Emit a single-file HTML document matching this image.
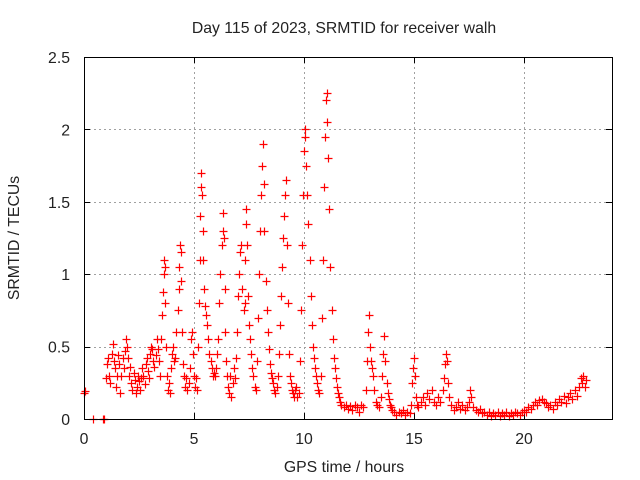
<!DOCTYPE html>
<html><head><meta charset="utf-8"><style>
body{margin:0;background:#fff}
svg{display:block;font-family:"Liberation Sans",sans-serif}
</style></head><body>
<svg id="chart" width="640" height="480" viewBox="0 0 640 480">
<rect width="640" height="480" fill="#fff"/>
<text x="344" y="33" font-size="15.8" text-anchor="middle" fill="#222">Day 115 of 2023, SRMTID for receiver walh</text>
<text x="344" y="472" font-size="15.8" text-anchor="middle" fill="#222">GPS time / hours</text>
<text x="0" y="0" font-size="15.8" text-anchor="middle" fill="#222" transform="translate(19,238) rotate(-90)">SRMTID / TECUs</text>
<g id="grid" shape-rendering="crispEdges"></g>
<g id="axes" shape-rendering="crispEdges"></g>
<g id="points"></g>
<rect x="84.5" y="57.5" width="528" height="362" fill="none" stroke="#000" stroke-width="1" shape-rendering="crispEdges"/>
</svg>
<script>
const xTicks=[0,5,10,15,20];
const yTicks=[0,0.5,1,1.5,2,2.5];
const yTickLabels=["0","0.5","1","1.5","2","2.5"];
const hours=[0.0,0.05,0.4,0.85,0.9,1.0,1.05,1.1,1.15,1.2,1.25,1.3,1.35,1.4,1.45,1.5,1.55,1.6,1.65,1.7,1.75,1.8,1.85,1.9,1.95,2.0,2.05,2.1,2.15,2.2,2.25,2.3,2.35,2.4,2.45,2.5,2.55,2.6,2.65,2.7,2.75,2.8,2.85,2.9,2.95,3.0,3.05,3.1,3.15,3.2,3.25,3.3,3.35,3.4,3.45,3.5,3.55,3.6,3.62,3.65,3.68,3.7,3.72,3.75,3.8,3.85,3.9,3.95,4.0,4.05,4.1,4.15,4.2,4.25,4.3,4.33,4.36,4.4,4.43,4.46,4.5,4.55,4.6,4.65,4.7,4.75,4.8,4.85,4.9,4.95,5.0,5.05,5.1,5.15,5.2,5.22,5.25,5.28,5.3,5.33,5.36,5.4,5.43,5.46,5.5,5.55,5.6,5.65,5.7,5.75,5.8,5.85,5.9,5.95,6.0,6.05,6.1,6.15,6.2,6.25,6.3,6.33,6.36,6.4,6.43,6.46,6.5,6.55,6.6,6.65,6.7,6.75,6.8,6.85,6.9,6.95,7.0,7.05,7.1,7.15,7.2,7.25,7.3,7.32,7.35,7.38,7.42,7.46,7.5,7.55,7.6,7.65,7.7,7.75,7.8,7.85,7.9,7.95,8.0,8.05,8.1,8.13,8.16,8.2,8.25,8.3,8.35,8.4,8.45,8.5,8.55,8.6,8.65,8.7,8.75,8.8,8.85,8.9,8.95,9.0,9.05,9.1,9.15,9.18,9.22,9.25,9.3,9.35,9.4,9.45,9.5,9.55,9.6,9.65,9.7,9.75,9.8,9.85,9.9,9.95,10.0,10.03,10.06,10.1,10.15,10.2,10.25,10.3,10.35,10.4,10.45,10.5,10.55,10.6,10.65,10.7,10.75,10.8,10.85,10.9,10.95,11.0,11.03,11.06,11.1,11.15,11.2,11.25,11.3,11.35,11.4,11.45,11.5,11.55,11.6,11.65,11.7,11.8,11.9,12.0,12.1,12.2,12.3,12.4,12.5,12.6,12.7,12.8,12.85,12.9,12.95,13.0,13.05,13.1,13.15,13.2,13.25,13.3,13.4,13.5,13.55,13.6,13.65,13.7,13.75,13.8,13.85,13.9,13.95,14.0,14.1,14.2,14.3,14.4,14.5,14.6,14.7,14.8,14.85,14.9,14.95,15.0,15.05,15.1,15.15,15.2,15.3,15.4,15.5,15.6,15.7,15.8,15.9,16.0,16.1,16.2,16.3,16.35,16.4,16.45,16.5,16.55,16.6,16.7,16.8,16.9,17.0,17.1,17.2,17.3,17.4,17.5,17.55,17.6,17.7,17.8,17.9,18.0,18.1,18.2,18.3,18.4,18.5,18.6,18.7,18.8,18.9,19.0,19.1,19.2,19.3,19.4,19.5,19.6,19.7,19.8,19.9,20.0,20.1,20.2,20.3,20.4,20.5,20.6,20.7,20.8,20.9,21.0,21.1,21.2,21.3,21.4,21.5,21.6,21.7,21.8,21.9,22.0,22.1,22.2,22.3,22.4,22.5,22.6,22.65,22.7,22.75,22.8];
const tecu=[0.18,0.19,0.0,0.0,0.0,0.28,0.38,0.42,0.30,0.25,0.45,0.52,0.40,0.35,0.22,0.30,0.44,0.38,0.18,0.30,0.42,0.35,0.47,0.55,0.50,0.42,0.30,0.36,0.25,0.20,0.32,0.27,0.18,0.22,0.30,0.26,0.20,0.28,0.35,0.30,0.24,0.38,0.42,0.33,0.28,0.45,0.50,0.48,0.40,0.36,0.44,0.55,0.48,0.40,0.30,0.55,0.72,0.88,1.0,1.10,1.05,0.80,0.50,0.30,0.20,0.25,0.18,0.35,0.45,0.50,0.40,0.42,0.60,0.75,0.90,1.05,1.20,1.15,0.95,0.60,0.38,0.30,0.22,0.28,0.20,0.25,0.35,0.55,0.60,0.45,0.30,0.22,0.28,0.20,0.50,0.80,1.10,1.40,1.60,1.70,1.55,1.30,1.10,0.90,0.78,0.72,0.65,0.55,0.45,0.40,0.35,0.30,0.32,0.30,0.35,0.45,0.55,0.80,1.00,1.20,1.30,1.42,1.25,0.90,0.60,0.40,0.30,0.22,0.18,0.30,0.15,0.25,0.35,0.28,0.42,0.60,0.85,1.00,1.15,1.20,0.90,0.75,0.80,1.10,1.35,1.45,1.20,0.85,0.65,0.55,0.45,0.35,0.30,0.22,0.20,0.40,0.70,1.00,1.30,1.55,1.75,1.90,1.62,1.30,0.95,0.75,0.60,0.48,0.38,0.32,0.28,0.25,0.20,0.18,0.22,0.30,0.45,0.65,0.85,1.05,1.25,1.40,1.55,1.65,1.20,0.80,0.45,0.30,0.25,0.20,0.18,0.15,0.20,0.22,0.15,0.18,0.40,0.75,1.20,1.55,1.85,2.00,1.95,1.75,1.55,1.35,1.10,0.85,0.65,0.50,0.42,0.35,0.30,0.25,0.20,0.18,0.30,0.70,1.10,1.60,1.95,2.20,2.25,2.05,1.80,1.45,1.05,0.75,0.55,0.42,0.35,0.28,0.22,0.18,0.15,0.12,0.10,0.08,0.10,0.07,0.09,0.06,0.10,0.08,0.05,0.10,0.08,0.20,0.40,0.60,0.72,0.50,0.40,0.35,0.30,0.20,0.12,0.10,0.08,0.15,0.30,0.45,0.57,0.40,0.25,0.18,0.14,0.10,0.08,0.06,0.05,0.03,0.05,0.04,0.06,0.03,0.05,0.04,0.10,0.25,0.35,0.42,0.30,0.15,0.10,0.08,0.12,0.15,0.10,0.18,0.14,0.20,0.12,0.10,0.15,0.12,0.20,0.28,0.38,0.45,0.40,0.25,0.15,0.10,0.06,0.08,0.12,0.07,0.10,0.06,0.08,0.12,0.20,0.15,0.08,0.06,0.05,0.07,0.04,0.05,0.03,0.05,0.02,0.04,0.03,0.05,0.02,0.04,0.03,0.05,0.02,0.04,0.03,0.05,0.04,0.03,0.05,0.06,0.05,0.08,0.07,0.10,0.12,0.10,0.13,0.14,0.12,0.11,0.08,0.10,0.07,0.12,0.10,0.14,0.12,0.16,0.11,0.15,0.18,0.14,0.20,0.16,0.22,0.28,0.25,0.30,0.22,0.27];

const X0=84,X1=612,Y0=419,Y1=57,XMAX=24,YMAX=2.5;
function xs(t){return X0+(X1-X0)*t/XMAX;}
function ys(v){return Y0-(Y0-Y1)*v/YMAX;}
const NS="http://www.w3.org/2000/svg";
const grid=document.getElementById('grid'),axes=document.getElementById('axes'),pts=document.getElementById('points');
function mk(tag,attrs,parent){const e=document.createElementNS(NS,tag);for(const k in attrs)e.setAttribute(k,attrs[k]);parent.appendChild(e);return e;}

xTicks.forEach(t=>{
  const x=Math.round(xs(t))+0.5;
  if(t>0){const g=mk('line',{x1:x,y1:Y1,x2:x,y2:Y0,stroke:'#a0a0a0','stroke-dasharray':'2,3'},grid);
  
  }
  mk('line',{x1:x,y1:Y0+0.5,x2:x,y2:Y0-6,stroke:'#000'},axes);
  mk('line',{x1:x,y1:Y1+0.5,x2:x,y2:Y1+6,stroke:'#000'},axes);
  const l=mk('text',{x:xs(t),y:Y0+25,'font-size':15.8,'text-anchor':'middle',fill:'#222'},axes);
  l.textContent=String(t);
  
  
});
yTicks.forEach((v,i)=>{
  const y=Math.round(ys(v))+0.5;
  if(v>0&&v<YMAX){const g=mk('line',{x1:X0,y1:y,x2:X1,y2:y,stroke:'#a0a0a0','stroke-dasharray':'2,3'},grid);
  
  }
  mk('line',{x1:X0,y1:y,x2:X0+6,y2:y,stroke:'#000'},axes);
  mk('line',{x1:X1,y1:y,x2:X1-6,y2:y,stroke:'#000'},axes);
  const l=mk('text',{x:X0-14,y:ys(v)+6,'font-size':15.8,'text-anchor':'end',fill:'#222'},axes);
  l.textContent=yTickLabels[i];
  
  
});
hours.forEach((t,i)=>{
  const x=Math.round(xs(t))+0.5,y=Math.round(ys(tecu[i]))+0.5;
  const p=mk('path',{d:`M${x-4} ${y}H${x+4}M${x} ${y-4}V${y+4}`,stroke:'#ff0000','stroke-width':1.2,fill:'none'},pts);
  
  
});
</script>
</body></html>
